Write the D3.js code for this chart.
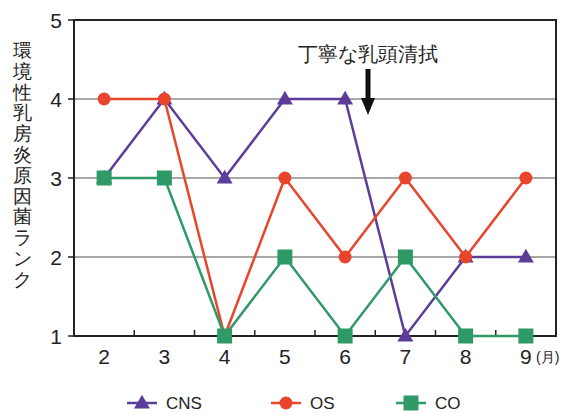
<!DOCTYPE html>
<html><head><meta charset="utf-8">
<script src="https://cdn.jsdelivr.net/npm/d3@7"></script>
<style>body{margin:0;background:#fff}svg{display:block}text{font-family:"Liberation Sans",Arial,sans-serif}</style>
</head><body>
<svg id="c" width="578" height="414"></svg>
<script>
const months = ["2","3","4","5","6","7","8","9"];
const yTicks = [1,2,3,4,5];
const cns = [3,4,3,4,4,1,2,2];
const os  = [4,4,1,3,2,3,2,3];
const co  = [3,3,1,2,1,2,1,1];
const seriesNames = ["CNS","OS","CO"];
const colors = {CNS:"#5c3d99", OS:"#e8452c", CO:"#2f9a67"};
const yTitle = "環境性乳房炎原因菌ランク";
const annot = "丁寧な乳頭清拭";

const svg = d3.select("#c");
const L=74, R=556, T=20, B=336;
const x = d3.scaleBand().domain(months).range([L,R]);
const y = d3.scaleLinear().domain([1,5]).range([B,T]);
const cx = m => x(m)+x.bandwidth()/2;
const jp = '"Noto Sans CJK JP",sans-serif';

// gridlines
svg.append("g").selectAll("line").data([2,3,4]).join("line")
  .attr("x1",L).attr("x2",R).attr("y1",d=>y(d)).attr("y2",d=>y(d))
  .attr("stroke","#555").attr("stroke-width",1.2);
// frame
svg.append("rect").attr("x",L).attr("y",T).attr("width",R-L).attr("height",B-T)
  .attr("fill","none").attr("stroke","#222").attr("stroke-width",2);
// x ticks at band boundaries (inside)
svg.append("g").selectAll("line").data(months.slice(1)).join("line")
  .attr("x1",d=>x(d)).attr("x2",d=>x(d)).attr("y1",B).attr("y2",B-6)
  .attr("stroke","#222").attr("stroke-width",1.5);
// y ticks outside
svg.append("g").selectAll("line").data(yTicks).join("line")
  .attr("x1",L-6).attr("x2",L).attr("y1",d=>y(d)).attr("y2",d=>y(d))
  .attr("stroke","#222").attr("stroke-width",1.5);
// y labels
svg.append("g").selectAll("text").data(yTicks).join("text")
  .attr("x",L-12).attr("y",d=>y(d)).attr("dy","0.36em").attr("text-anchor","end")
  .attr("font-size",21).attr("fill","#222").text(d=>d);
// x labels
svg.append("g").selectAll("text").data(months).join("text")
  .attr("x",d=>cx(d)).attr("y",B+28).attr("text-anchor","middle")
  .attr("font-size",21).attr("fill","#222").text(d=>d);
svg.append("text").attr("x",536).attr("y",B+26).attr("font-size",14)
  .attr("font-family",jp).attr("fill","#222").text("(月)");
// y title vertical
svg.append("g").selectAll("text").data(Array.from(yTitle)).join("text")
  .attr("x",22).attr("y",(d,i)=>57+i*20.8).attr("text-anchor","middle")
  .attr("font-size",19).attr("font-family",jp).attr("fill","#222").text(d=>d);

// annotation
svg.append("text").attr("x",368).attr("y",61).attr("text-anchor","middle")
  .attr("font-size",20).attr("font-family",jp).attr("fill","#222").text(annot);
svg.append("line").attr("x1",368).attr("x2",368).attr("y1",69).attr("y2",100)
  .attr("stroke","#111").attr("stroke-width",5);
svg.append("path").attr("d","M361,98 L375,98 L368,115 Z").attr("fill","#111");

const data = {CNS:cns, OS:os, CO:co};
const line = d3.line().x((d,i)=>cx(months[i])).y(d=>y(d));
function marker(g, name, px, py){
  const c = colors[name];
  if(name==="CNS") g.append("path").attr("d",d3.symbol(d3.symbolTriangle,110)()).attr("transform",`translate(${px},${py+1})`).attr("fill",c);
  else if(name==="OS") g.append("circle").attr("cx",px).attr("cy",py).attr("r",6.5).attr("fill",c);
  else g.append("rect").attr("x",px-7.5).attr("y",py-7.5).attr("width",15).attr("height",15).attr("fill",c);
}
seriesNames.forEach(name=>{
  const g = svg.append("g");
  g.append("path").datum(data[name]).attr("d",line).attr("fill","none")
    .attr("stroke",colors[name]).attr("stroke-width",2.5);
  data[name].forEach((v,i)=>marker(g,name,cx(months[i]),y(v)));
});

// legend
const legX = [127,271,396];
seriesNames.forEach((name,i)=>{
  const g = svg.append("g");
  g.append("line").attr("x1",legX[i]).attr("x2",legX[i]+30).attr("y1",403).attr("y2",403)
    .attr("stroke",colors[name]).attr("stroke-width",2.5);
  marker(g,name,legX[i]+15,403);
  g.append("text").attr("x",legX[i]+39).attr("y",403).attr("dy","0.36em")
    .attr("font-size",17).attr("fill","#222").text(name);
});
</script>
</body></html>
